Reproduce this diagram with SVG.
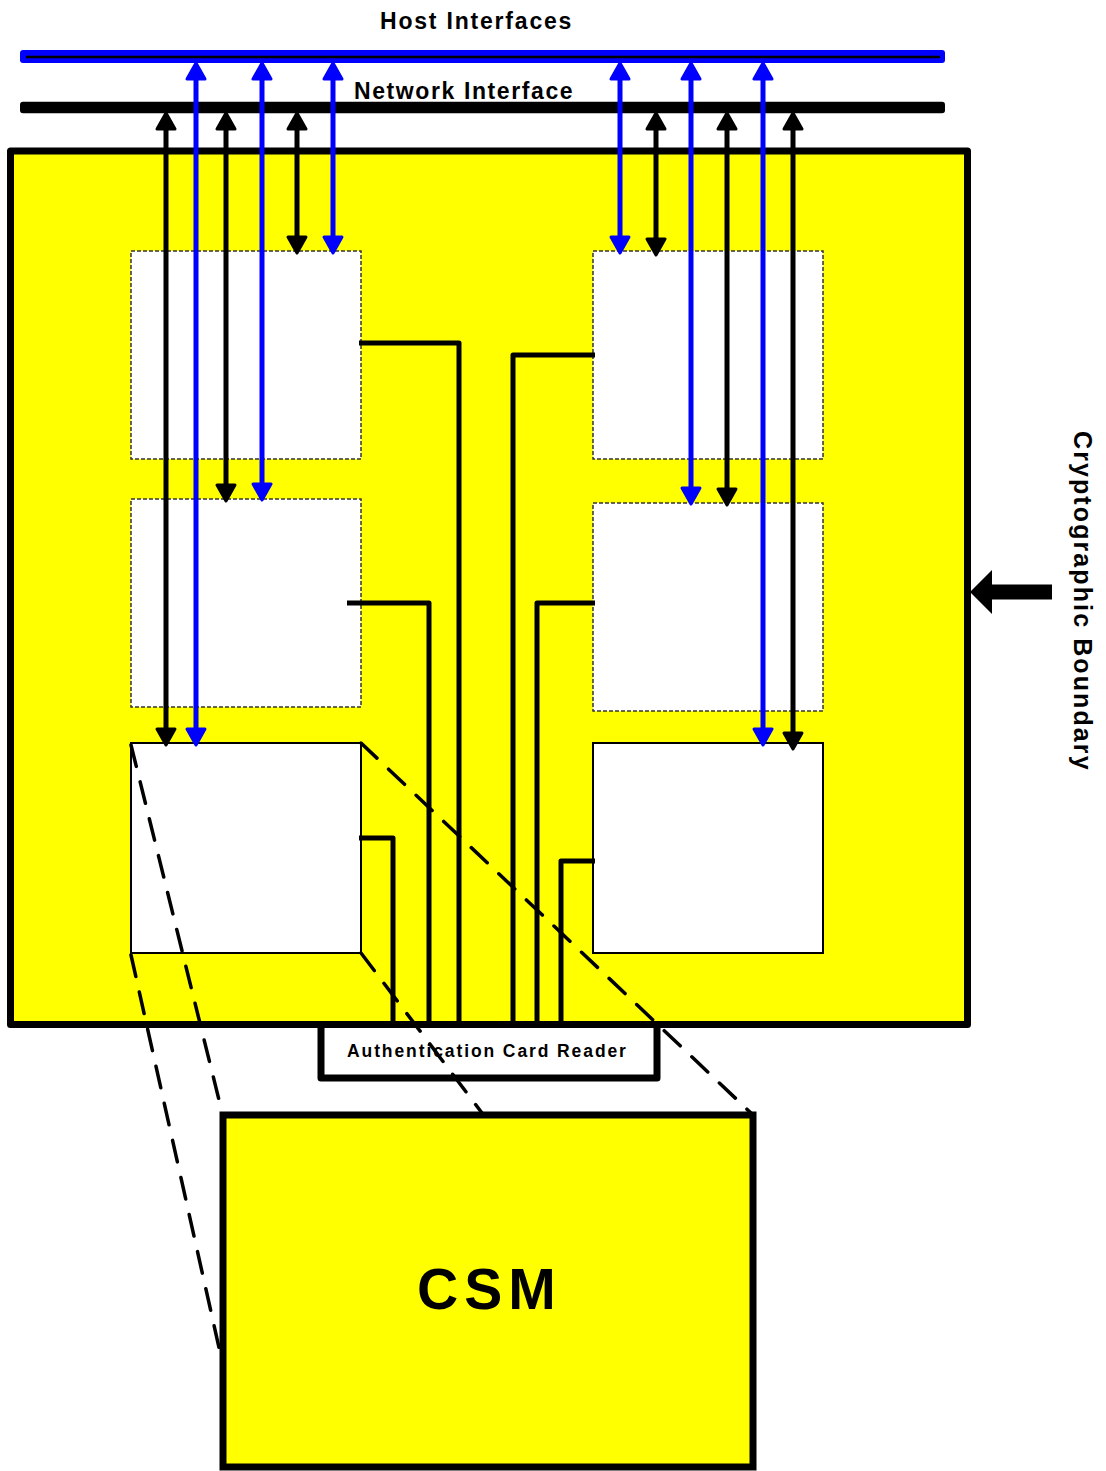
<svg xmlns="http://www.w3.org/2000/svg" width="1106" height="1471" viewBox="0 0 1106 1471">
<style>
.lbl{font-family:"Liberation Sans",Arial,sans-serif;font-weight:bold;fill:#000}
.dbox{fill:#fff;stroke:#333;stroke-width:1.5;stroke-dasharray:4 2}
.sbox{fill:#fff;stroke:#000;stroke-width:2}
.conn{fill:none;stroke:#000;stroke-width:5;stroke-linejoin:round}
.ab{fill:none;stroke:#000;stroke-width:5;marker-start:url(#hb);marker-end:url(#hb)}
.au{fill:none;stroke:#0000ff;stroke-width:5;marker-start:url(#hu);marker-end:url(#hu)}
.dash{fill:none;stroke:#000;stroke-width:3.5;stroke-dasharray:22 16;stroke-linecap:round}
</style>
<defs>
<marker id="hb" markerUnits="userSpaceOnUse" orient="auto-start-reverse" refX="0" refY="0" markerWidth="40" markerHeight="40" overflow="visible">
<path d="M10,0 L-6,-9 L-6,9 Z" fill="#000" stroke="#000" stroke-width="3" stroke-linejoin="round"/>
</marker>
<marker id="hu" markerUnits="userSpaceOnUse" orient="auto-start-reverse" refX="0" refY="0" markerWidth="40" markerHeight="40" overflow="visible">
<path d="M10,0 L-6,-9 L-6,9 Z" fill="#0000ff" stroke="#0000ff" stroke-width="3" stroke-linejoin="round"/>
</marker>
</defs>
<rect width="1106" height="1471" fill="#fff"/>

<g id="crypto-boundary">
<rect x="10.5" y="151" width="957" height="873.5" fill="#ffff00" stroke="#000" stroke-width="7" stroke-linejoin="round"/>
</g>

<g id="host-interfaces">
<rect x="20" y="50" width="925" height="13" rx="3" fill="#0000ff"/>
<line x1="26" y1="57" x2="940" y2="57" stroke="#000" stroke-width="2.5"/>
<text class="lbl" x="380" y="28.5" font-size="23" letter-spacing="1.8">Host Interfaces</text>
</g>

<g id="network-interface">
<rect x="20" y="101.7" width="925" height="11.6" rx="3" fill="#000"/>
<text class="lbl" x="354" y="99.3" font-size="23" letter-spacing="1.6">Network Interface</text>
</g>

<g id="box-l1"><rect class="dbox" x="131" y="251" width="230" height="208"/></g>
<g id="box-l2"><rect class="dbox" x="131" y="499" width="230" height="208"/></g>
<g id="box-l3"><rect class="sbox" x="131" y="743" width="230" height="210"/></g>
<g id="box-r1"><rect class="dbox" x="593" y="251" width="230" height="208"/></g>
<g id="box-r2"><rect class="dbox" x="593" y="503" width="230" height="208"/></g>
<g id="box-r3"><rect class="sbox" x="593" y="743" width="230" height="210"/></g>

<g id="connectors">
<path class="conn" d="M359,343 H459 V1024"/>
<path class="conn" d="M347,603 H429 V1024"/>
<path class="conn" d="M359,838 H393 V1024"/>
<path class="conn" d="M595,355 H513 V1024"/>
<path class="conn" d="M595,603 H537 V1024"/>
<path class="conn" d="M595,861 H561 V1024"/>
<line class="ab" x1="166" y1="123" x2="166" y2="735"/>
<line class="ab" x1="226" y1="123" x2="226" y2="491"/>
<line class="ab" x1="297" y1="123" x2="297" y2="243"/>
<line class="ab" x1="656" y1="123" x2="656" y2="245"/>
<line class="ab" x1="727" y1="123" x2="727" y2="495"/>
<line class="ab" x1="793" y1="123" x2="793" y2="739"/>
<line class="au" x1="196" y1="73" x2="196" y2="735"/>
<line class="au" x1="262" y1="73" x2="262" y2="490"/>
<line class="au" x1="333" y1="73" x2="333" y2="243"/>
<line class="au" x1="620" y1="73" x2="620" y2="243"/>
<line class="au" x1="691" y1="73" x2="691" y2="494"/>
<line class="au" x1="763" y1="73" x2="763" y2="735"/>
</g>

<g id="card-reader">
<rect x="321" y="1024.5" width="336" height="53.5" fill="#fff" stroke="#000" stroke-width="7" stroke-linejoin="round"/>
<text class="lbl" x="347" y="1057" font-size="17.5" letter-spacing="1.9">Authentication Card Reader</text>
</g>

<g id="csm">
<rect x="223" y="1115" width="530" height="352" fill="#ffff00" stroke="#000" stroke-width="7"/>
<text class="lbl" x="417" y="1309" font-size="57" letter-spacing="6">CSM</text>
</g>

<g id="zoom-lines">
<line class="dash" x1="131" y1="745" x2="222" y2="1112"/>
<line class="dash" x1="131" y1="955" x2="220" y2="1352"/>
<line class="dash" x1="361" y1="743" x2="751" y2="1113"/>
<line class="dash" x1="361" y1="953" x2="482" y2="1113"/>
</g>

<g id="boundary-label">
<path d="M1052,584.5 H992 V570 L970,592 L992,614 V599.5 H1052 Z" fill="#000"/>
<text class="lbl" transform="translate(1074,431) rotate(90)" x="0" y="0" font-size="25" letter-spacing="2.1">Cryptographic Boundary</text>
</g>
</svg>
